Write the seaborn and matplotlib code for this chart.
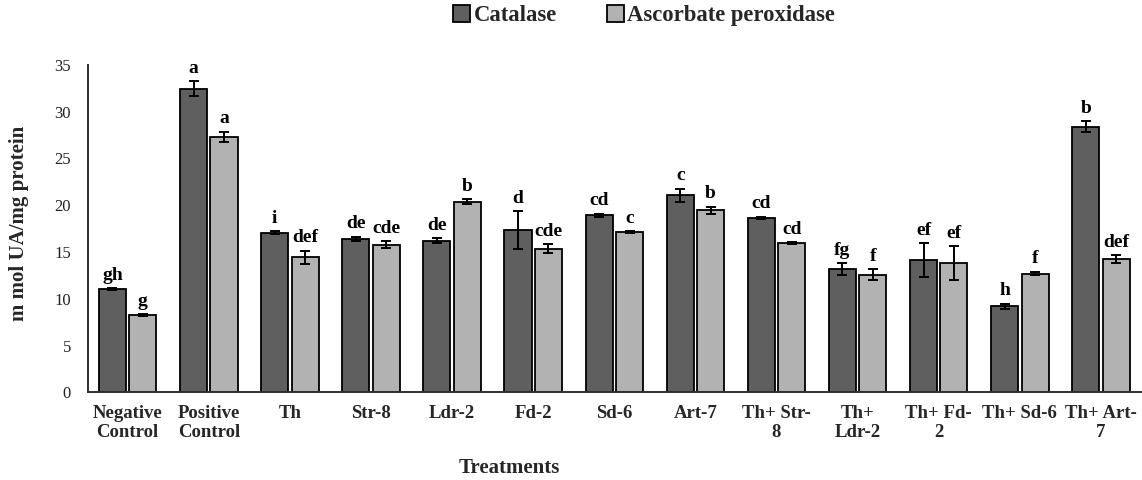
import numpy as np
import pandas as pd
import matplotlib
matplotlib.use("Agg")
import matplotlib.pyplot as plt
import seaborn as sns

categories = ["Negative\nControl", "Positive\nControl", "Th", "Str-8", "Ldr-2", "Fd-2",
              "Sd-6", "Art-7", "Th+ Str-\n8", "Th+\nLdr-2", "Th+ Fd-\n2", "Th+ Sd-6", "Th+ Art-\n7"]
series_names = ["Catalase", "Ascorbate peroxidase"]
catalase = [11.0, 32.45, 17.06, 16.4, 16.2, 17.35, 18.94, 21.08, 18.66, 13.14, 14.15, 9.2, 28.4]
catalase_err = [0.1, 0.8, 0.15, 0.25, 0.25, 2.0, 0.15, 0.7, 0.1, 0.65, 1.8, 0.25, 0.6]
apx = [8.25, 27.3, 14.45, 15.78, 20.37, 15.35, 17.13, 19.44, 15.95, 12.57, 13.85, 12.7, 14.25]
apx_err = [0.1, 0.55, 0.7, 0.4, 0.25, 0.5, 0.1, 0.4, 0.1, 0.6, 1.8, 0.2, 0.4]
catalase_letters = ["gh", "a", "i", "de", "de", "d", "cd", "c", "cd", "fg", "ef", "h", "b"]
apx_letters = ["g", "a", "def", "cde", "b", "cde", "c", "b", "cd", "f", "ef", "f", "def"]

df = pd.DataFrame({
    "Treatment": categories * 2,
    "Enzyme": [series_names[0]] * len(categories) + [series_names[1]] * len(categories),
    "Value": catalase + apx,
})

sns.set_theme(style="white")
plt.rcParams["font.family"] = ["Liberation Serif", "DejaVu Serif"]

fig = plt.figure(figsize=(11.42, 4.8), dpi=100)
ax = fig.add_axes([0.0768, 0.1827, 0.9232, 0.682])

palette = {series_names[0]: "#5f5f5f", series_names[1]: "#b2b2b2"}
sns.barplot(data=df, x="Treatment", y="Value", hue="Enzyme", order=categories,
            hue_order=series_names, palette=palette, errorbar=None, width=0.75, gap=0.11,
            edgecolor="black", linewidth=1.3, saturation=1, ax=ax)

errs = [catalase_err, apx_err]
vals = [catalase, apx]
letters = [catalase_letters, apx_letters]
bar_containers = list(ax.containers)[:2]
for k, cont in enumerate(bar_containers):
    for i, bar in enumerate(cont.patches):
        xc = bar.get_x() + bar.get_width() / 2
        ax.errorbar(xc, vals[k][i], yerr=errs[k][i], fmt="none", ecolor="black",
                    elinewidth=1.4, capsize=3.5, capthick=1.4, zorder=5)
        ax.text(xc, vals[k][i] + errs[k][i] + 0.9, letters[k][i], ha="center", va="baseline",
                fontsize=14, fontweight="bold", color="black")

ax.set_ylim(0, 35)
ax.set_xlim(-0.493, len(categories) - 0.494)
ax.set_yticks(range(0, 36, 5))
ax.tick_params(axis="both", length=0)
ax.tick_params(axis="y", labelsize=12, pad=12)
ax.tick_params(axis="x", labelsize=13.5, pad=9)
for lab in ax.get_yticklabels():
    lab.set_color("#222222")
for lab in ax.get_xticklabels():
    lab.set_fontweight("bold")
    lab.set_linespacing(1.15)
ax.set_ylabel("m mol UA/mg protein", fontsize=15, fontweight="bold")
ax.yaxis.set_label_coords(-0.065, 0.516)
ax.yaxis.label.set_va("center")
ax.set_xlabel("Treatments", fontsize=15, fontweight="bold")
ax.xaxis.set_label_coords(0.40, -0.231)
ax.xaxis.label.set_va("center")
for s in ["top", "right"]:
    ax.spines[s].set_visible(False)
for s in ["left", "bottom"]:
    ax.spines[s].set_color("#303030")
    ax.spines[s].set_linewidth(1.4)

handles, labels = ax.get_legend_handles_labels()
ax.legend(handles, labels, loc="center", bbox_to_anchor=(0.564, 0.967), bbox_transform=fig.transFigure,
          ncol=2, frameon=False, prop={"weight": "bold", "size": 16.3}, handlelength=0.75,
          handleheight=0.75, handletextpad=0.15, columnspacing=2.2, borderpad=0.1)

fig.savefig("out.png", dpi=100)
